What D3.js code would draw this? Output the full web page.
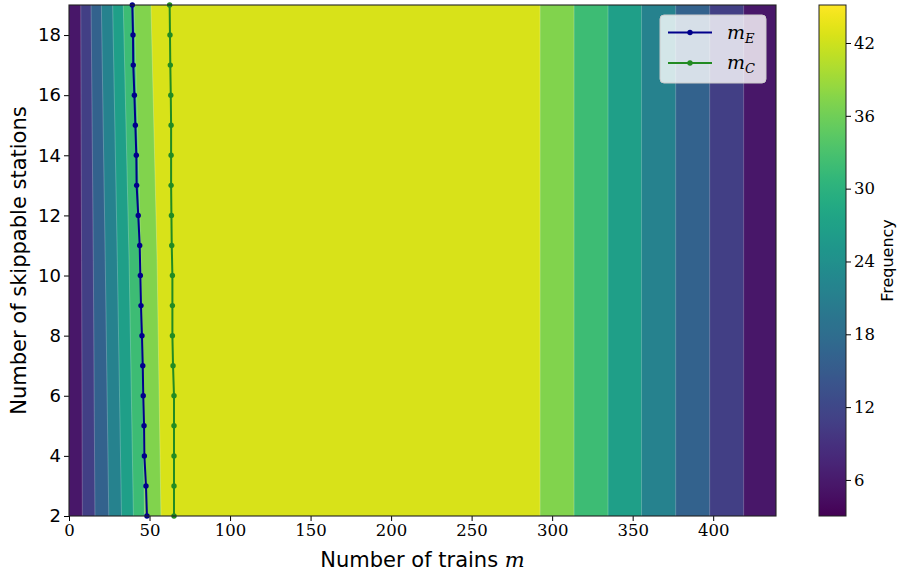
<!DOCTYPE html>
<html>
<head>
<meta charset="utf-8">
<script src="https://cdn.jsdelivr.net/npm/d3@7"></script>
<style>
  html, body { margin: 0; padding: 0; background: #fff; }
  svg { display: block; }
</style>
</head>
<body>
<svg id="chart" width="899" height="573"></svg>
<script>
// ---------------- data ----------------
const stations = [2, 3, 4, 5, 6, 7, 8, 9, 10, 11, 12, 13, 14, 15, 16, 17, 18, 19];
const mE = [48.4, 47.8, 46.8, 46.6, 46.1, 45.8, 45.3, 44.7, 44.3, 43.9, 43.0, 42.0, 41.8, 41.2, 40.6, 39.9, 39.75, 39.3];
const mC = [65.2, 65.2, 65.2, 65.2, 65.2, 64.6, 64.2, 64.2, 64.2, 63.8, 63.6, 63.4, 63.4, 63.4, 63.2, 62.9, 62.7, 62.5];

// contour levels of the frequency surface
const levels = [3.03, 8.29, 13.55, 18.82, 24.08, 29.34, 34.60, 39.87, 45.13];
// rising side of the surface: m-position of each level boundary at these station counts
const boundaryStations = [2, 10.5, 19];
const leftBounds = [
  [8.3, 7.8, 7.3],
  [16.1, 15.1, 13.7],
  [24.7, 22.5, 20.1],
  [32.6, 30.0, 27.1],
  [40.0, 37.3, 33.7],
  [46.9, 44.7, 40.4],
  [57.1, 54.7, 50.9]
];
// falling side: vertical boundaries (m) for the same levels
const rightBounds = [418.9, 397.8, 376.7, 355.5, 334.7, 313.6, 292.5];

const xTicks = [0, 50, 100, 150, 200, 250, 300, 350, 400];
const yTicks = [2, 4, 6, 8, 10, 12, 14, 16, 18];
const cbTicks = [6, 12, 18, 24, 30, 36, 42];
const xDomain = [0, 439];
const yDomain = [2, 19];

// ---------------- layout ----------------
const svg = d3.select("#chart");
const P = { left: 69, right: 776, top: 5, bottom: 516 };
const x = d3.scaleLinear().domain(xDomain).range([P.left, P.right]);
const y = d3.scaleLinear().domain(yDomain).range([P.bottom, P.top]);
const color = d3.scaleSequential(d3.interpolateViridis).domain([levels[0], levels[levels.length - 1]]);

const serif = "'DejaVu Serif', serif";
const sans = "'DejaVu Sans', sans-serif";

// clip
svg.append("defs").append("clipPath").attr("id", "plotclip")
  .append("rect").attr("x", P.left).attr("y", P.top)
  .attr("width", P.right - P.left).attr("height", P.bottom - P.top);

const plot = svg.append("g").attr("clip-path", "url(#plotclip)");

// base band (lowest level) covers all
plot.append("rect")
  .attr("x", x(xDomain[0])).attr("y", y(yDomain[1]))
  .attr("width", x(xDomain[1]) - x(xDomain[0]))
  .attr("height", y(yDomain[0]) - y(yDomain[1]))
  .attr("fill", color((levels[0] + levels[1]) / 2));

// nested bands
leftBounds.forEach((lb, k) => {
  const pts = [];
  pts.push([x(lb[0]), y(yDomain[0])]);
  boundaryStations.forEach((s, j) => pts.push([x(lb[j]), y(s)]));
  pts.push([x(lb[lb.length - 1]), y(yDomain[1])]);
  pts.push([x(rightBounds[k]), y(yDomain[1])]);
  pts.push([x(rightBounds[k]), y(yDomain[0])]);
  plot.append("path")
    .attr("d", "M" + pts.map(p => p.join(",")).join("L") + "Z")
    .attr("fill", color((levels[k + 1] + levels[k + 2]) / 2));
});

// faint seams at band boundaries
const lineGen = d3.line().x(d => x(d[0])).y(d => y(d[1]));
leftBounds.forEach((lb, k) => {
  plot.append("path")
    .attr("d", lineGen(boundaryStations.map((s, j) => [lb[j], s])))
    .attr("fill", "none").attr("stroke", "#fff").attr("stroke-opacity", 0.3).attr("stroke-width", 0.8);
  plot.append("path")
    .attr("d", lineGen([[rightBounds[k], yDomain[0]], [rightBounds[k], yDomain[1]]]))
    .attr("fill", "none").attr("stroke", "#fff").attr("stroke-opacity", 0.3).attr("stroke-width", 0.8);
});

// series lines
const series = [
  { name: "E", values: mE, color: "#00008b" },
  { name: "C", values: mC, color: "#228b22" }
];
const dataLine = d3.line().x(d => x(d[0])).y(d => y(d[1]));
series.forEach(sr => {
  const pts = stations.map((s, i) => [sr.values[i], s]);
  svg.append("path").attr("d", dataLine(pts))
    .attr("fill", "none").attr("stroke", sr.color).attr("stroke-width", 2);
  svg.append("g").selectAll("circle").data(pts).join("circle")
    .attr("cx", d => x(d[0])).attr("cy", d => y(d[1])).attr("r", 2.7)
    .attr("fill", sr.color);
});

// axes
const xAxis = d3.axisBottom(x).tickValues(xTicks).tickSize(5).tickPadding(3).tickFormat(d3.format("d"));
const gx = svg.append("g").attr("transform", `translate(0,${P.bottom})`).call(xAxis);
gx.select(".domain").remove();
gx.selectAll("text").attr("font-family", serif).attr("font-size", 16.5).attr("fill", "#000");
gx.selectAll("line").attr("stroke", "#000").attr("stroke-width", 1);

const yAxis = d3.axisLeft(y).tickValues(yTicks).tickSize(5).tickPadding(3).tickFormat(d3.format("d"));
const gy = svg.append("g").attr("transform", `translate(${P.left},0)`).call(yAxis);
gy.select(".domain").remove();
gy.selectAll("text").attr("font-family", sans).attr("font-size", 18).attr("fill", "#000");
gy.selectAll("line").attr("stroke", "#000").attr("stroke-width", 1);

// frame
svg.append("rect").attr("x", P.left).attr("y", P.top)
  .attr("width", P.right - P.left).attr("height", P.bottom - P.top)
  .attr("fill", "none").attr("stroke", "#222").attr("stroke-width", 1.1);

// axis labels
const xl = svg.append("text").attr("x", (P.left + P.right) / 2 + 0).attr("y", 567)
  .attr("text-anchor", "middle").attr("font-family", sans).attr("font-size", 21).attr("fill", "#000");
xl.append("tspan").text("Number of trains ");
xl.append("tspan").attr("font-family", serif).attr("font-style", "italic").text("m");

svg.append("text").attr("transform", `translate(26,${(P.top + P.bottom) / 2}) rotate(-90)`)
  .attr("text-anchor", "middle").attr("font-family", sans).attr("font-size", 21).attr("fill", "#000")
  .text("Number of skippable stations");

// legend
const lg = svg.append("g");
lg.append("rect").attr("x", 660).attr("y", 15).attr("width", 106).attr("height", 68).attr("rx", 4)
  .attr("fill", "#fff").attr("fill-opacity", 0.8).attr("stroke", "#ccc").attr("stroke-width", 1);
series.forEach((sr, i) => {
  const ly = 32.5 + i * 30.5;
  lg.append("line").attr("x1", 668).attr("x2", 712).attr("y1", ly).attr("y2", ly)
    .attr("stroke", sr.color).attr("stroke-width", 2);
  lg.append("circle").attr("cx", 690).attr("cy", ly).attr("r", 2.7).attr("fill", sr.color);
  const t = lg.append("text").attr("x", 727).attr("y", ly + 6)
    .attr("font-family", serif).attr("font-style", "italic").attr("font-size", 19).attr("fill", "#000");
  t.append("tspan").text("m");
  t.append("tspan").attr("font-size", 13).attr("dy", 4).text(sr.name);
});

// colorbar
const CB = { left: 819, width: 27, top: 5, bottom: 516 };
const cy = d3.scaleLinear().domain([levels[0], levels[levels.length - 1]]).range([CB.bottom, CB.top]);
const grad = svg.select("defs").append("linearGradient").attr("id", "cbgrad")
  .attr("x1", 0).attr("y1", 1).attr("x2", 0).attr("y2", 0);
d3.range(0, 1.0001, 0.02).forEach(t => {
  grad.append("stop").attr("offset", t).attr("stop-color", d3.interpolateViridis(t));
});
svg.append("rect").attr("x", CB.left).attr("y", CB.top).attr("width", CB.width)
  .attr("height", CB.bottom - CB.top).attr("fill", "url(#cbgrad)")
  .attr("stroke", "#222").attr("stroke-width", 1);
const cAxis = d3.axisRight(cy).tickValues(cbTicks).tickSize(5).tickPadding(3);
const gc = svg.append("g").attr("transform", `translate(${CB.left + CB.width},0)`).call(cAxis);
gc.select(".domain").remove();
gc.selectAll("text").attr("font-family", serif).attr("font-size", 16.5).attr("fill", "#000");
gc.selectAll("line").attr("stroke", "#000");
svg.append("text").attr("transform", `translate(888,${(CB.top + CB.bottom) / 2}) rotate(-90)`)
  .attr("text-anchor", "middle").attr("dominant-baseline", "middle")
  .attr("font-family", sans).attr("font-size", 16).attr("fill", "#000").text("Frequency");
</script>
</body>
</html>
